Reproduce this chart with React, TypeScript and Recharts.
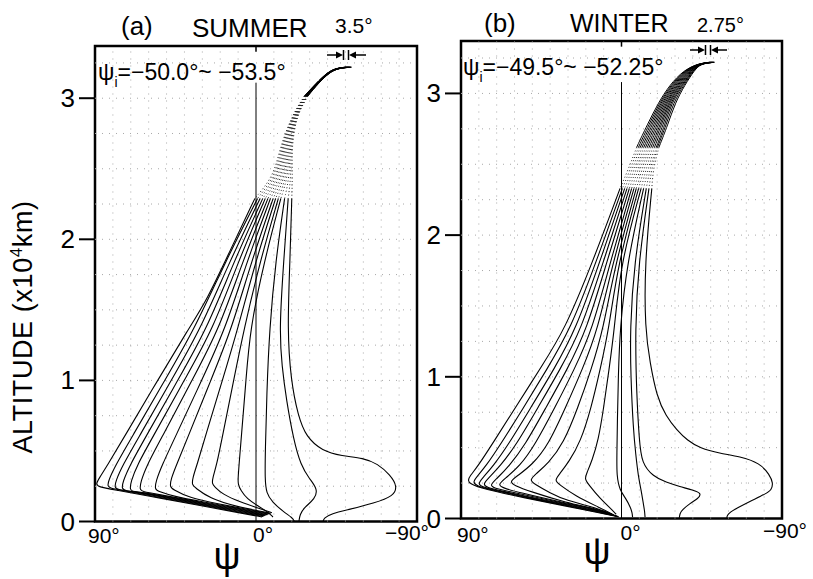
import React from 'react';
import { LineChart, Line, XAxis, YAxis, ReferenceLine, ReferenceArea } from 'recharts';

const FONT = '"Liberation Sans", Arial, Helvetica, sans-serif';

// each ray: [wave normal angle psi (deg), altitude (x10^4 km)], read from top to ground
const summerUpper = [
  [[-50.0, 3.22], [-45.0, 3.213], [-40.0, 3.185], [-33.5, 3.105], [-27.0, 3.015], [-20.0, 2.875], [-13.4, 2.65], [-10.0, 2.45], [0.6, 2.29]],
  [[-50.3, 3.22], [-45.1, 3.213], [-40.1, 3.185], [-33.6, 3.105], [-27.2, 3.015], [-20.2, 2.875], [-13.9, 2.65], [-10.8, 2.45], [-0.9, 2.29]],
  [[-50.5, 3.22], [-45.2, 3.213], [-40.2, 3.185], [-33.7, 3.105], [-27.3, 3.015], [-20.4, 2.875], [-14.4, 2.65], [-11.6, 2.45], [-2.3, 2.29]],
  [[-50.8, 3.22], [-45.3, 3.213], [-40.3, 3.185], [-33.8, 3.105], [-27.5, 3.015], [-20.6, 2.875], [-14.9, 2.65], [-12.4, 2.45], [-3.8, 2.29]],
  [[-51.1, 3.22], [-45.4, 3.213], [-40.4, 3.185], [-33.9, 3.105], [-27.6, 3.015], [-20.8, 2.875], [-15.4, 2.65], [-13.2, 2.45], [-5.2, 2.29]],
  [[-51.3, 3.22], [-45.5, 3.213], [-40.5, 3.185], [-34.0, 3.105], [-27.8, 3.015], [-21.0, 2.875], [-15.9, 2.65], [-14.0, 2.45], [-6.7, 2.29]],
  [[-51.6, 3.22], [-45.6, 3.213], [-40.6, 3.185], [-34.1, 3.105], [-27.9, 3.015], [-21.2, 2.875], [-16.4, 2.65], [-14.8, 2.45], [-8.1, 2.29]],
  [[-51.9, 3.22], [-45.7, 3.213], [-40.7, 3.185], [-34.2, 3.105], [-28.1, 3.015], [-21.4, 2.875], [-16.9, 2.65], [-15.6, 2.45], [-9.6, 2.29]],
  [[-52.2, 3.22], [-45.8, 3.213], [-40.8, 3.185], [-34.3, 3.105], [-28.2, 3.015], [-21.6, 2.875], [-17.4, 2.65], [-16.4, 2.45], [-11.0, 2.29]],
  [[-52.4, 3.22], [-45.9, 3.213], [-40.9, 3.185], [-34.4, 3.105], [-28.4, 3.015], [-21.8, 2.875], [-17.9, 2.65], [-17.2, 2.45], [-12.5, 2.29]],
  [[-52.7, 3.22], [-46.0, 3.213], [-41.0, 3.185], [-34.5, 3.105], [-28.5, 3.015], [-22.0, 2.875], [-18.4, 2.65], [-18.0, 2.45], [-13.9, 2.29]],
  [[-53.0, 3.22], [-46.1, 3.213], [-41.1, 3.185], [-34.6, 3.105], [-28.7, 3.015], [-22.2, 2.875], [-18.9, 2.65], [-18.8, 2.45], [-16.0, 2.29]],
  [[-53.2, 3.22], [-46.2, 3.213], [-41.2, 3.185], [-34.7, 3.105], [-28.8, 3.015], [-22.4, 2.875], [-19.4, 2.65], [-19.6, 2.45], [-18.0, 2.29]],
  [[-53.5, 3.22], [-46.3, 3.213], [-41.3, 3.185], [-34.8, 3.105], [-29.0, 3.015], [-22.6, 2.875], [-19.9, 2.65], [-20.4, 2.45], [-20.0, 2.29]],
];

const summerLower = [
  [[0.6, 2.29], [14.5, 1.92], [27.4, 1.57], [38.0, 1.36], [55.0, 1.0], [73.6, 0.6], [83.0, 0.40], [88.0, 0.30], [89.5, 0.265], [88.0, 0.245], [80.0, 0.227], [53.7, 0.166], [31.3, 0.113], [8.9, 0.061], [-3.4, 0.032]],
  [[-0.9, 2.29], [16.8, 1.85], [34.5, 1.36], [51.0, 1.0], [69.3, 0.6], [78.5, 0.40], [82.5, 0.29], [83.0, 0.25], [81.5, 0.235], [75.0, 0.22], [53.7, 0.171], [31.3, 0.118], [8.9, 0.066], [-4.0, 0.036]],
  [[-2.3, 2.29], [14.5, 1.85], [31.1, 1.36], [47.4, 1.0], [65.4, 0.6], [74.5, 0.40], [78.5, 0.285], [79.0, 0.24], [77.5, 0.226], [70.0, 0.214], [53.7, 0.176], [31.3, 0.123], [8.9, 0.071], [-4.6, 0.04]],
  [[-3.8, 2.29], [12.1, 1.85], [27.6, 1.36], [43.8, 1.0], [61.6, 0.6], [70.5, 0.40], [74.5, 0.28], [75.0, 0.232], [73.5, 0.218], [65.0, 0.207], [53.7, 0.181], [31.3, 0.128], [8.9, 0.076], [-5.2, 0.043]],
  [[-5.2, 2.29], [9.7, 1.85], [24.1, 1.36], [40.2, 1.0], [57.6, 0.6], [66.5, 0.40], [70.0, 0.28], [70.5, 0.225], [69.0, 0.212], [60.0, 0.2], [31.3, 0.133], [8.9, 0.081], [-5.8, 0.046]],
  [[-6.7, 2.29], [7.3, 1.85], [20.7, 1.36], [35.8, 1.0], [52.5, 0.6], [61.0, 0.40], [64.5, 0.28], [65.0, 0.225], [63.5, 0.212], [55.0, 0.193], [31.3, 0.138], [8.9, 0.086], [-6.4, 0.049]],
  [[-8.1, 2.29], [4.9, 1.85], [17.2, 1.36], [30.4, 1.0], [45.1, 0.6], [52.5, 0.40], [56.0, 0.285], [56.5, 0.23], [55.0, 0.215], [45.0, 0.175], [31.3, 0.143], [8.9, 0.091], [-7.0, 0.052]],
  [[-9.6, 2.29], [2.4, 1.85], [13.7, 1.36], [25.3, 1.0], [38.0, 0.6], [44.5, 0.40], [47.6, 0.30], [48.1, 0.244], [46.5, 0.228], [38.0, 0.17], [20.0, 0.122], [8.9, 0.096], [-7.7, 0.055]],
  [[-11.0, 2.29], [0.1, 1.85], [10.3, 1.36], [18.8, 1.0], [28.4, 0.6], [33.0, 0.40], [35.4, 0.31], [35.8, 0.259], [34.0, 0.24], [26.0, 0.165], [12.0, 0.108], [-8.3, 0.058]],
  [[-12.5, 2.29], [-2.4, 1.85], [6.8, 1.36], [12.5, 1.0], [18.8, 0.6], [22.0, 0.40], [24.2, 0.31], [24.6, 0.266], [23.0, 0.245], [19.0, 0.195], [8.9, 0.138], [-2.2, 0.09], [-8.9, 0.062]],
  [[-13.9, 2.29], [-4.7, 1.85], [3.4, 1.36], [5.6, 1.0], [8.2, 0.6], [9.5, 0.40], [10.0, 0.31], [10.1, 0.266], [8.5, 0.22], [5.0, 0.16], [-1.1, 0.11], [-6.7, 0.067], [-9.5, 0.032]],
  [[-16.0, 2.29], [-11.0, 1.85], [-7.5, 1.36], [-6.0, 0.9], [-5.2, 0.5], [-5.0, 0.3], [-5.8, 0.2], [-9.0, 0.14], [-15.3, 0.069], [-20.5, 0.025], [-21.5, 0.0]],
  [[-18.0, 2.29], [-15.5, 1.85], [-13.0, 1.36], [-14.5, 1.1], [-17.0, 0.86], [-21.0, 0.58], [-25.0, 0.40], [-30.0, 0.30], [-34.5, 0.23], [-33.0, 0.16], [-27.0, 0.10], [-24.5, 0.05], [-24.0, 0.0]],
  [[-20.0, 2.29], [-19.0, 1.85], [-17.5, 1.36], [-19.5, 1.0], [-23.5, 0.75], [-28.0, 0.6], [-37.0, 0.50], [-48.0, 0.465], [-60.0, 0.45], [-68.0, 0.41], [-75.0, 0.33], [-79.0, 0.25], [-77.0, 0.18], [-66.0, 0.13], [-52.0, 0.085], [-42.0, 0.055], [-38.0, 0.025], [-37.5, 0.0]],
];

const winterUpper = [
  [[-49.5, 3.22], [-43.0, 3.21], [-35.0, 3.165], [-27.0, 3.06], [-20.5, 2.93], [-14.5, 2.78], [-8.5, 2.62], [-4.0, 2.47], [0.8, 2.33]],
  [[-49.7, 3.22], [-43.1, 3.21], [-35.5, 3.165], [-27.7, 3.06], [-21.2, 2.93], [-15.4, 2.78], [-9.5, 2.62], [-5.1, 2.47], [-0.5, 2.33]],
  [[-49.9, 3.22], [-43.2, 3.21], [-36.0, 3.165], [-28.3, 3.06], [-21.9, 2.93], [-16.3, 2.78], [-10.5, 2.62], [-6.2, 2.47], [-1.8, 2.33]],
  [[-50.1, 3.22], [-43.3, 3.21], [-36.5, 3.165], [-29.0, 3.06], [-22.6, 2.93], [-17.2, 2.78], [-11.5, 2.62], [-7.3, 2.47], [-3.1, 2.33]],
  [[-50.35, 3.22], [-43.5, 3.21], [-37.0, 3.165], [-29.6, 3.06], [-23.3, 2.93], [-18.1, 2.78], [-12.5, 2.62], [-8.4, 2.47], [-4.4, 2.33]],
  [[-50.55, 3.22], [-43.6, 3.21], [-37.5, 3.165], [-30.3, 3.06], [-24.0, 2.93], [-19.0, 2.78], [-13.5, 2.62], [-9.5, 2.47], [-5.7, 2.33]],
  [[-50.75, 3.22], [-43.7, 3.21], [-38.0, 3.165], [-31.0, 3.06], [-24.7, 2.93], [-19.9, 2.78], [-14.5, 2.62], [-10.6, 2.47], [-7.0, 2.33]],
  [[-50.95, 3.22], [-43.8, 3.21], [-38.5, 3.165], [-31.6, 3.06], [-25.3, 2.93], [-20.8, 2.78], [-15.5, 2.62], [-11.7, 2.47], [-8.3, 2.33]],
  [[-51.15, 3.22], [-43.9, 3.21], [-39.0, 3.165], [-32.3, 3.06], [-26.0, 2.93], [-21.7, 2.78], [-16.5, 2.62], [-12.8, 2.47], [-9.6, 2.33]],
  [[-51.4, 3.22], [-44.0, 3.21], [-39.5, 3.165], [-32.9, 3.06], [-26.6, 2.93], [-22.5, 2.78], [-17.5, 2.62], [-13.9, 2.47], [-11.0, 2.33]],
  [[-51.6, 3.22], [-44.1, 3.21], [-40.0, 3.165], [-33.6, 3.06], [-27.3, 2.93], [-23.4, 2.78], [-18.5, 2.62], [-15.0, 2.47], [-12.4, 2.33]],
  [[-51.8, 3.22], [-44.2, 3.21], [-40.3, 3.165], [-34.2, 3.06], [-28.0, 2.93], [-24.3, 2.78], [-19.5, 2.62], [-16.0, 2.47], [-13.9, 2.33]],
  [[-52.0, 3.22], [-44.3, 3.21], [-40.6, 3.165], [-34.9, 3.06], [-29.0, 2.93], [-25.1, 2.78], [-20.2, 2.62], [-16.9, 2.47], [-15.4, 2.33]],
  [[-52.25, 3.22], [-44.5, 3.21], [-41.0, 3.165], [-35.5, 3.06], [-30.0, 2.93], [-26.0, 2.78], [-21.0, 2.62], [-17.8, 2.47], [-17.0, 2.33]],
];

const winterLower = [
  [[0.8, 2.33], [16.5, 1.80], [31.7, 1.335], [45.0, 1.07], [58.6, 0.80], [72.0, 0.535], [80.5, 0.37], [85.0, 0.3], [86.2, 0.27], [85.0, 0.245], [78.0, 0.21], [53.7, 0.144], [31.3, 0.088], [12.0, 0.039], [1.5, 0.012]],
  [[-0.5, 2.33], [14.5, 1.80], [28.6, 1.335], [42.0, 1.05], [55.0, 0.78], [68.0, 0.52], [76.0, 0.37], [81.5, 0.29], [83.3, 0.255], [81.5, 0.232], [74.0, 0.205], [53.7, 0.148], [31.3, 0.092], [12.0, 0.043], [2.0, 0.014]],
  [[-1.8, 2.33], [12.5, 1.80], [25.5, 1.335], [38.0, 1.05], [51.0, 0.78], [63.5, 0.52], [72.0, 0.37], [78.0, 0.285], [80.5, 0.245], [78.5, 0.225], [71.0, 0.2], [53.7, 0.152], [31.3, 0.096], [12.0, 0.047], [2.5, 0.016]],
  [[-3.1, 2.33], [10.5, 1.80], [22.5, 1.335], [34.5, 1.05], [47.0, 0.78], [59.0, 0.52], [68.0, 0.37], [75.0, 0.28], [77.7, 0.24], [75.5, 0.22], [68.0, 0.196], [53.7, 0.156], [31.3, 0.1], [12.0, 0.051], [3.0, 0.018]],
  [[-4.4, 2.33], [8.5, 1.80], [19.4, 1.335], [30.5, 1.05], [42.5, 0.78], [54.0, 0.52], [63.0, 0.37], [70.5, 0.275], [73.8, 0.235], [71.5, 0.214], [63.0, 0.19], [31.3, 0.104], [12.0, 0.055], [3.5, 0.02]],
  [[-5.7, 2.33], [6.5, 1.80], [16.3, 1.335], [26.5, 1.05], [37.5, 0.78], [48.5, 0.52], [57.0, 0.37], [65.5, 0.28], [69.2, 0.24], [67.0, 0.218], [58.0, 0.185], [31.3, 0.108], [12.0, 0.059], [4.0, 0.022]],
  [[-7.0, 2.33], [5.0, 1.80], [13.2, 1.335], [22.0, 1.05], [31.5, 0.78], [41.0, 0.52], [50.0, 0.38], [58.5, 0.3], [62.7, 0.26], [60.5, 0.235], [51.0, 0.19], [31.3, 0.112], [12.0, 0.063], [4.5, 0.024]],
  [[-8.3, 2.33], [3.5, 1.80], [10.2, 1.335], [17.0, 1.05], [24.5, 0.78], [32.5, 0.53], [41.0, 0.39], [48.5, 0.31], [51.5, 0.27], [49.0, 0.245], [40.0, 0.18], [31.3, 0.128], [12.0, 0.067], [5.0, 0.026]],
  [[-9.6, 2.33], [2.0, 1.80], [7.1, 1.335], [12.0, 1.05], [17.0, 0.78], [23.0, 0.54], [29.5, 0.4], [35.0, 0.31], [37.5, 0.27], [35.0, 0.24], [26.0, 0.16], [12.0, 0.075], [5.0, 0.03]],
  [[-11.0, 2.33], [0.5, 1.80], [4.0, 1.335], [7.0, 1.05], [10.0, 0.78], [13.0, 0.55], [16.5, 0.41], [19.5, 0.32], [20.7, 0.28], [18.5, 0.24], [12.0, 0.14], [6.0, 0.07], [3.0, 0.03]],
  [[-12.4, 2.33], [-3.0, 1.80], [0.9, 1.335], [1.8, 1.0], [2.3, 0.7], [2.6, 0.45], [2.7, 0.3], [1.0, 0.2], [-2.5, 0.14], [-5.0, 0.08], [-6.0, 0.04], [-6.2, 0.01]],
  [[-13.9, 2.33], [-7.0, 1.80], [-4.8, 1.335], [-5.2, 1.0], [-6.6, 0.63], [-8.0, 0.45], [-9.4, 0.3], [-11.0, 0.2], [-12.2, 0.108], [-13.0, 0.05], [-13.2, 0.01]],
  [[-15.4, 2.33], [-9.5, 1.80], [-7.6, 1.335], [-8.5, 0.863], [-10.0, 0.55], [-11.3, 0.391], [-17.8, 0.296], [-25.0, 0.255], [-32.8, 0.225], [-40.0, 0.2], [-45.0, 0.178], [-43.0, 0.14], [-38.4, 0.108], [-34.0, 0.06], [-32.8, 0.037], [-32.4, 0.005]],
  [[-17.0, 2.33], [-13.0, 1.80], [-13.2, 1.335], [-16.0, 1.1], [-19.7, 0.863], [-25.0, 0.72], [-30.9, 0.627], [-37.0, 0.55], [-44.0, 0.497], [-55.0, 0.46], [-66.4, 0.438], [-77.6, 0.391], [-83.0, 0.31], [-85.1, 0.249], [-84.0, 0.2], [-81.4, 0.178], [-72.0, 0.12], [-62.7, 0.06], [-59.5, 0.03], [-59.0, 0.005]],
];

// the vertical psi = 0 ray
const summerVertical = [[0, 0], [0, 3.11]];
const winterVertical = [[0, 0], [0, 3.08]];

const altTicks = [0, 1, 2, 3];
const psiTicks = [90, 0, -90];
const gridPsi = [80, 70, 60, 50, 40, 30, 20, 10, -10, -20, -30, -40, -50, -60, -70, -80];
const gridAlt = [0.25, 0.5, 0.75, 1, 1.25, 1.5, 1.75, 2, 2.25, 2.5, 2.75, 3, 3.25];
const ALT_MAX = 3.37;

const rows = (pts: number[][]) => pts.map(([psi, alt]) => ({ psi, alt }));
const psiLabel = (v: number) => (v < 0 ? `\u2212${-v}°` : `${v}°`);

type Plot = { left: number; width: number; top: number; bottom: number };

// y axis occupies x 5..60 inside each chart, the plot starts at x = 60
const AXIS_X = 60;

function RayPanel({ id, plot, upper, lower, vertical, bandEnd, tickDx, tickDy }: {
  id: string; plot: Plot; upper: number[][][]; lower: number[][][]; vertical: number[][];
  bandEnd: number; tickDx: Record<number, number>; tickDy: Record<number, number>;
}) {
  const ray = { dataKey: 'alt', dot: false, activeDot: false, isAnimationActive: false, type: 'basis' as const };
  return (
    <div style={{ position: 'absolute', left: plot.left - AXIS_X, top: 0 }}>
      <LineChart
        width={plot.width + AXIS_X + 30}
        height={579}
        margin={{ top: plot.top, right: 30, bottom: 579 - plot.bottom - 30, left: 5 }}
      >
        <XAxis
          type="number" dataKey="psi" domain={[-90, 90]} reversed allowDataOverflow
          ticks={psiTicks} interval={0} height={30} axisLine={false} tickLine={false}
          tickSize={0} tickMargin={0}
          tick={(p: any) => (
            <text x={p.x + tickDx[p.payload.value]} y={p.y + tickDy[p.payload.value]}
              fontSize={21} fontFamily={FONT} fill="#000" textAnchor="start">
              {psiLabel(p.payload.value)}
            </text>
          )}
        />
        <YAxis
          type="number" domain={[0, ALT_MAX]} allowDataOverflow ticks={altTicks} interval={0}
          width={55} axisLine={false} tickLine={false}
          tick={(p: any) => (
            <g>
              <line x1={AXIS_X - 16} x2={AXIS_X} y1={p.y} y2={p.y} stroke="#000" strokeWidth={2} />
              <text x={AXIS_X - 20} y={p.y + 9} fontSize={26} fontFamily={FONT} fill="#000" textAnchor="end">
                {p.payload.value}
              </text>
            </g>
          )}
        />
        {gridPsi.map((v) => (
          <ReferenceLine key={`gx${v}`} x={v} stroke="#a8a8a8" strokeWidth={1} strokeDasharray="1 6" />
        ))}
        {gridAlt.map((v) => (
          <ReferenceLine key={`gy${v}`} y={v} stroke="#a8a8a8" strokeWidth={1} strokeDasharray="1 6" />
        ))}
        <ReferenceLine segment={[{ x: 0, y: ALT_MAX }, { x: 0, y: ALT_MAX - 0.04 }]} stroke="#000" strokeWidth={1.5} />
        <ReferenceArea x1={-90} x2={90} y1={0} y2={ALT_MAX} fill="none" stroke="#000" strokeWidth={2.5} />
        <Line {...ray} key={`${id}-v`} data={rows(vertical)} type="linear" stroke="#000" strokeWidth={1} />
        {upper.map((pts, i) => (
          <Line {...ray} key={`${id}-ub${i}`} data={rows(pts.slice(0, bandEnd + 1))}
            stroke="#000" strokeWidth={1} />
        ))}
        {upper.map((pts, i) => (
          <Line {...ray} key={`${id}-ud${i}`} data={rows(pts.slice(bandEnd))}
            stroke="#222" strokeWidth={1} strokeDasharray="1 2.5" />
        ))}
        {lower.map((pts, i) => (
          <Line {...ray} key={`${id}-l${i}`} data={rows(pts)} stroke="#000" strokeWidth={1.1} />
        ))}
      </LineChart>
    </div>
  );
}

export default function App() {
  return (
    <div style={{ position: 'absolute', left: 0, top: 0, width: 813, height: 579, background: '#fff' }}>
      <RayPanel
        id="summer" plot={{ left: 95, width: 322, top: 46, bottom: 521.5 }}
        upper={summerUpper} lower={summerLower} vertical={summerVertical} bandEnd={4}
        tickDx={{ 90: -7, 0: -3, [-90]: -32 }} tickDy={{ 90: 21, 0: 20, [-90]: 18 }}
      />
      <RayPanel
        id="winter" plot={{ left: 461, width: 321, top: 41, bottom: 518.5 }}
        upper={winterUpper} lower={winterLower} vertical={winterVertical} bandEnd={6}
        tickDx={{ 90: -4, 0: -1, [-90]: -19 }} tickDy={{ 90: 23, 0: 21, [-90]: 19 }}
      />
      <svg width={813} height={579} style={{ position: 'absolute', left: 0, top: 0, pointerEvents: 'none' }}
        fontFamily={FONT} fill="#000">
        <text x={121} y={35} fontSize={26}>(a)</text>
        <text x={192} y={37} fontSize={26}>SUMMER</text>
        <text x={335} y={33} fontSize={21}>3.5°</text>
        <text x={484} y={32} fontSize={26}>(b)</text>
        <text x={570} y={32} fontSize={25}>WINTER</text>
        <text x={697} y={32} fontSize={20}>2.75°</text>

        <g stroke="#000" strokeWidth={1.5}>
          <line x1={327} y1={55} x2={340} y2={55} />
          <line x1={343.5} y1={50} x2={343.5} y2={60} />
          <line x1={348.5} y1={50} x2={348.5} y2={60} />
          <line x1={352} y1={55} x2={366} y2={55} />
          <line x1={690} y1={50} x2={702} y2={50} />
          <line x1={705.5} y1={45} x2={705.5} y2={55} />
          <line x1={710.5} y1={45} x2={710.5} y2={55} />
          <line x1={714} y1={50} x2={727} y2={50} />
        </g>
        <polygon points="343,55 336,51.5 336,58.5" />
        <polygon points="349,55 356,51.5 356,58.5" />
        <polygon points="705,50 698,46.5 698,53.5" />
        <polygon points="711,50 718,46.5 718,53.5" />

        <text x={98} y={80} fontSize={23}>
          ψ<tspan fontSize={14} dy={7}>i</tspan><tspan dy={-7}>=−50.0°~ −53.5°</tspan>
        </text>
        <text x={463} y={75} fontSize={23}>
          ψ<tspan fontSize={14} dy={7}>i</tspan><tspan dy={-7}>=−49.5°~ −52.25°</tspan>
        </text>

        <text x={227} y={569} fontSize={38} textAnchor="middle">ψ</text>
        <text x={597} y={564} fontSize={38} textAnchor="middle">ψ</text>

        <text transform="translate(32,327) rotate(-90)" fontSize={27} letterSpacing={0.6} textAnchor="middle">
          ALTITUDE (x10<tspan fontSize={17} dy={-10}>4</tspan><tspan dy={10}>km)</tspan>
        </text>
      </svg>
    </div>
  );
}
